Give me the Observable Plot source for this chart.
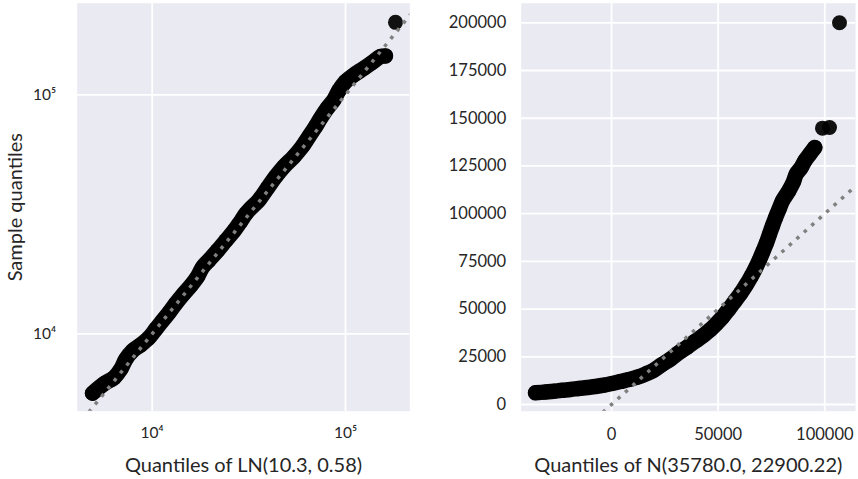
<!DOCTYPE html>
<html><head><meta charset="utf-8">
<script src="https://cdn.jsdelivr.net/npm/d3@7"></script>
<script src="https://cdn.jsdelivr.net/npm/@observablehq/plot@0.6"></script>
<style>
html,body{margin:0;padding:0;background:#fff;}
#fig{position:relative;width:858px;height:479px;font-family:Lato,sans-serif;}
#left,#right{position:absolute;top:0;}
#left{left:0;} #right{left:430px;}
</style></head><body>
<div id="fig"><div id="left"></div><div id="right"></div></div>
<script>
// Left panel: quantiles of LN(10.3, 0.58) vs sample quantiles (log-log)
const lnTheoretical = [4910, 5650, 6360, 6880, 7300, 7910, 8730, 9650, 10440, 11300, 12240, 13250, 14520, 15840, 17160, 18200, 19720, 21770, 24030, 26570, 28730, 30500, 32250, 35610, 39340, 43450, 47960, 54030, 59700, 64580, 69970, 74240, 80390, 87000, 92340, 100000, 110400, 124400, 137400, 151800, 161000, 181400];
const lnSample = [5640, 6190, 6560, 7110, 7830, 8490, 8990, 9650, 10460, 11340, 12280, 13400, 14680, 15900, 17340, 18970, 20370, 22280, 24540, 27030, 29570, 31760, 33430, 36220, 40550, 45390, 50010, 55070, 60660, 66790, 73570, 79690, 87770, 95100, 104100, 113600, 121100, 129100, 136500, 144600, 145500, 201000];

// Right panel: quantiles of N(35780.0, 22900.22) vs sample quantiles
const normTheoretical = [-35630, -30940, -27050, -23210, -19220, -15470, -11390, -7500, -3610, 230, 4220, 8200, 12050, 15940, 19830, 23680, 27660, 31650, 35490, 39380, 43270, 46410, 49230, 52040, 54850, 57670, 60480, 63060, 65400, 67510, 69390, 71030, 72670, 74070, 75480, 76890, 78530, 80170, 83120, 85180, 86590, 88940, 90620, 92970, 95310, 98920, 102200, 106890];
const normSample = [6120, 6540, 6960, 7430, 7850, 8370, 8900, 9420, 10100, 10990, 12040, 13080, 14290, 15960, 17950, 20930, 23810, 27210, 30090, 33230, 36370, 39250, 42390, 45790, 49710, 53900, 58090, 62530, 66980, 71430, 75880, 80320, 84770, 89220, 93670, 97850, 102300, 106750, 111980, 116330, 120720, 124180, 127680, 131190, 134640, 144790, 145110, 200000];

const lnTicks = [1e4, 1e5];
const normXTicks = [0, 50000, 100000];
const normYTicks = [0, 25000, 50000, 75000, 100000, 125000, 150000, 175000, 200000];
const lnRefLine = [3000, 300000];
const normRefLine = [-60000, 260000];

const xTitleLN = "Quantiles of LN(10.3, 0.58)";
const xTitleN = "Quantiles of N(35780.0, 22900.22)";
const yTitle = "Sample quantiles";

const lnData = lnTheoretical.map((x, i) => ({x, y: lnSample[i]}));
const normData = normTheoretical.map((x, i) => ({x, y: normSample[i]}));
// the densely packed (overlapping) run of points, without the isolated outliers
const lnDense = lnData.slice(0, -1);
const normDense = normData.slice(0, -3);

const supDigits = {"0":"⁰","1":"¹","2":"²","3":"³","4":"⁴","5":"⁵","6":"⁶","7":"⁷","8":"⁸","9":"⁹","-":"⁻"};
const supFmt = d => "10" + String(Math.round(Math.log10(d))).split("").map(c => supDigits[c]).join("");

const ink = "#262626";
const bg = "#EAEAF2";
const gridStyle = {stroke: "white", strokeOpacity: 1, strokeWidth: 1.8};
const dotStyle = {x: "x", y: "y", r: 7.5, fill: "#000", fillOpacity: 0.93, stroke: null};
const bandStyle = {x: "x", y: "y", stroke: "#050505", strokeWidth: 15.5, strokeLinejoin: "round", strokeLinecap: "round", curve: "catmull-rom"};
const refStyle = {x: d => d, y: d => d, stroke: "#808080", strokeWidth: 3.5, strokeDasharray: "3.5,6.5", strokeLinecap: "butt", clip: true};

const left = Plot.plot({
  width: 430, height: 479,
  marginLeft: 76.7, marginRight: 20.7, marginTop: 2.7, marginBottom: 68.3,
  style: {fontFamily: "Lato, sans-serif", background: "transparent"},
  x: {type: "log", domain: [4093, 215100]},
  y: {type: "log", domain: [4745, 241700]},
  marks: [
    Plot.frame({fill: bg, stroke: null}),
    Plot.gridX(lnTicks, gridStyle),
    Plot.gridY(lnTicks, gridStyle),
    Plot.axisX(lnTicks, {tickSize: 0, tickPadding: 16, tickFormat: supFmt, fontSize: 15.5, fill: ink, label: null}),
    Plot.axisY(lnTicks, {tickSize: 0, tickPadding: 21, tickFormat: supFmt, fontSize: 15.5, fill: ink, label: null}),
    Plot.line(lnDense, bandStyle),
    Plot.dot(lnData, dotStyle),
    Plot.line(lnRefLine, refStyle),
    Plot.text([xTitleLN], {text: d => d, frameAnchor: "bottom", dy: 54, lineAnchor: "middle", textAnchor: "middle", fontSize: 20, fill: ink}),
    Plot.text([yTitle], {text: d => d, frameAnchor: "left", dx: -61.7, rotate: -90, lineAnchor: "middle", textAnchor: "middle", fontSize: 20, fill: ink})
  ]
});
document.getElementById("left").appendChild(left);

const right = Plot.plot({
  width: 428, height: 479,
  marginLeft: 90.7, marginRight: 3, marginTop: 2.7, marginBottom: 68.3,
  style: {fontFamily: "Lato, sans-serif", background: "transparent"},
  x: {domain: [-42330, 114390]},
  y: {domain: [-3510, 210270]},
  marks: [
    Plot.frame({fill: bg, stroke: null}),
    Plot.gridX(normXTicks, gridStyle),
    Plot.gridY(normYTicks, gridStyle),
    Plot.axisX(normXTicks, {tickSize: 0, tickPadding: 17, tickFormat: d => String(d), fontSize: 16.5, fill: ink, label: null}),
    Plot.axisY(normYTicks, {tickSize: 0, tickPadding: 15, tickFormat: d => String(d), fontSize: 16.5, fill: ink, label: null}),
    Plot.line(normDense, bandStyle),
    Plot.dot(normData, dotStyle),
    Plot.line(normRefLine, refStyle),
    Plot.text([xTitleN], {text: d => d, frameAnchor: "bottom", dy: 54, lineAnchor: "middle", textAnchor: "middle", fontSize: 20, fill: ink})
  ]
});
document.getElementById("right").appendChild(right);
</script>
</body></html>
